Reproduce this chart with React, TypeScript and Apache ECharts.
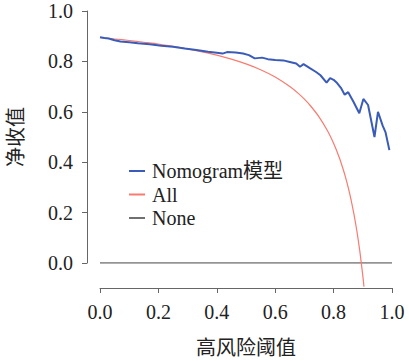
import React, { useEffect, useRef } from "react";
import * as echarts from "echarts";

const nomogramX = [0.0, 0.015, 0.03, 0.05, 0.07, 0.1, 0.13, 0.17, 0.21, 0.25, 0.29, 0.33, 0.37, 0.4, 0.42, 0.435, 0.465, 0.49, 0.51, 0.53, 0.555, 0.575, 0.6, 0.628, 0.65, 0.672, 0.685, 0.697, 0.72, 0.74, 0.755, 0.776, 0.788, 0.8, 0.812, 0.825, 0.838, 0.85, 0.868, 0.888, 0.902, 0.918, 0.94, 0.952, 0.968, 0.978, 0.991];
const nomogramY = [0.896, 0.893, 0.891, 0.884, 0.879, 0.876, 0.872, 0.868, 0.862, 0.858, 0.851, 0.845, 0.838, 0.834, 0.831, 0.837, 0.835, 0.831, 0.825, 0.812, 0.815, 0.809, 0.806, 0.804, 0.798, 0.792, 0.779, 0.789, 0.772, 0.758, 0.745, 0.716, 0.734, 0.727, 0.714, 0.695, 0.668, 0.678, 0.64, 0.594, 0.651, 0.627, 0.5, 0.6, 0.545, 0.518, 0.448];

const allX = [0.0, 0.05, 0.1, 0.15, 0.2, 0.25, 0.3, 0.35, 0.4, 0.45, 0.5, 0.55, 0.6, 0.65, 0.68, 0.7, 0.72, 0.75, 0.78, 0.8, 0.82, 0.83, 0.84, 0.85, 0.86, 0.87, 0.88, 0.89, 0.9, 0.904];
const allY = [0.895, 0.889, 0.883, 0.876, 0.869, 0.86, 0.85, 0.838, 0.825, 0.809, 0.79, 0.767, 0.738, 0.7, 0.672, 0.65, 0.625, 0.58, 0.523, 0.475, 0.417, 0.382, 0.344, 0.3, 0.25, 0.192, 0.125, 0.045, -0.05, -0.094];

const noneX = [0.0, 1.0];
const noneY = [0.0, 0.0];

const seriesNames = ["Nomogram模型", "All", "None"];
const seriesColors = ["#3a5cb8", "#f77b70", "#707070"];

const serif = "Liberation Serif, Noto Sans CJK SC, serif";
const cjk = "Noto Sans CJK SC, sans-serif";

function zip(xs: number[], ys: number[]) {
  return xs.map((x, i) => [x, ys[i]]);
}

export default function App() {
  const ref = useRef<HTMLDivElement>(null);
  useEffect(() => {
    if (!ref.current) return;
    const chart = echarts.init(ref.current, null, { renderer: "svg" });
    const axisCommon = {
      min: 0,
      max: 1,
      interval: 0.2,
      splitLine: { show: false },
      axisLine: { show: true, onZero: false, lineStyle: { color: "#666", width: 1 } },
      axisTick: { show: true, length: 5, lineStyle: { color: "#666", width: 1 } },
      axisLabel: {
        fontFamily: serif,
        fontSize: 20,
        color: "#222",
        margin: 14,
        formatter: (v: number) => v.toFixed(1),
      },
      nameTextStyle: { fontFamily: cjk, fontSize: 20, color: "#222" },
      nameLocation: "middle" as const,
    };
    const legendRowsY = [171, 194.5, 218];
    const legendGraphic = seriesNames.flatMap((n, i) => [
      {
        type: "line",
        shape: { x1: 129, y1: legendRowsY[i], x2: 145, y2: legendRowsY[i] },
        style: { stroke: seriesColors[i], lineWidth: 2 },
      },
      {
        type: "text",
        x: 152,
        y: legendRowsY[i],
        style: {
          text: n,
          fontFamily: serif,
          fontSize: 20,
          fill: "#222",
          verticalAlign: "middle",
        },
      },
    ]);
    chart.setOption({
      animation: false,
      backgroundColor: "#fff",
      textStyle: { fontFamily: serif },
      grid: { left: 100, right: 17, top: 11, bottom: 98, outerBoundsMode: "none", containLabel: false },
      xAxis: {
        type: "value",
        ...axisCommon,
        offset: 25,
        name: "高风险阈值",
        nameGap: 48,
      },
      yAxis: {
        type: "value",
        ...axisCommon,
        offset: 13,
        name: "净收值",
        nameGap: 63,
        nameRotate: 90,
      },
      graphic: legendGraphic,
      series: [
        {
          name: seriesNames[0],
          type: "line",
          data: zip(nomogramX, nomogramY),
          showSymbol: false,
          color: seriesColors[0],
          lineStyle: { width: 2, color: seriesColors[0] },
          z: 3,
        },
        {
          name: seriesNames[1],
          type: "line",
          data: zip(allX, allY),
          showSymbol: false,
          smooth: 0.2,
          clip: false,
          color: seriesColors[1],
          lineStyle: { width: 1.2, color: seriesColors[1] },
          z: 2,
        },
        {
          name: seriesNames[2],
          type: "line",
          data: zip(noneX, noneY),
          showSymbol: false,
          color: seriesColors[2],
          lineStyle: { width: 1.5, color: seriesColors[2] },
          z: 1,
        },
      ],
    });
    return () => chart.dispose();
  }, []);
  return <div ref={ref} style={{ width: 409, height: 361, position: "absolute", left: 0, top: 0 }} />;
}
